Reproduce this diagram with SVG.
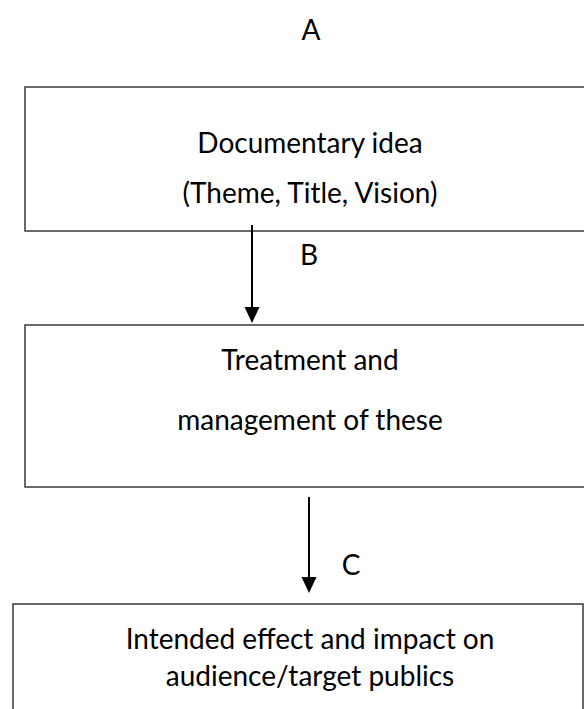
<svg xmlns="http://www.w3.org/2000/svg" width="584" height="709" viewBox="0 0 584 709">
<defs>
<style>
.box{fill:#fff;stroke:#3a3a3a;stroke-width:1.5}
.t{font-family:Lato,"Open Sans","Liberation Sans",sans-serif;font-size:28px;fill:#000;text-anchor:middle}
.c{stroke:#000;stroke-width:2;fill:none}
</style>
</defs>
<rect width="584" height="709" fill="#fff"/>
<text class="t" x="311" y="40">A</text>
<g id="node-idea">
<rect class="box" x="25" y="87" width="580" height="144"/>
<text class="t" x="310" y="153">Documentary idea</text>
<text class="t" x="310" y="203">(Theme, Title, Vision)</text>
</g>
<g id="node-treatment">
<rect class="box" x="25" y="325" width="580" height="162"/>
<text class="t" x="310" y="370">Treatment and</text>
<text class="t" x="310" y="430">management of these</text>
</g>
<g id="node-effect">
<rect class="box" x="13" y="604" width="570" height="120"/>
<text class="t" x="310" y="649">Intended effect and impact on</text>
<text class="t" x="310" y="686">audience/target publics</text>
</g>
<g id="connectors">
<line class="c" x1="252" y1="225" x2="252" y2="308"/>
<path d="M244.5,307 L259.5,307 L252,323 z" fill="#000"/>
<text class="t" x="309" y="265">B</text>
<line class="c" x1="309" y1="497" x2="309" y2="578"/>
<path d="M301.5,577 L316.5,577 L309,593 z" fill="#000"/>
<text class="t" x="351" y="575">C</text>
</g>
</svg>
